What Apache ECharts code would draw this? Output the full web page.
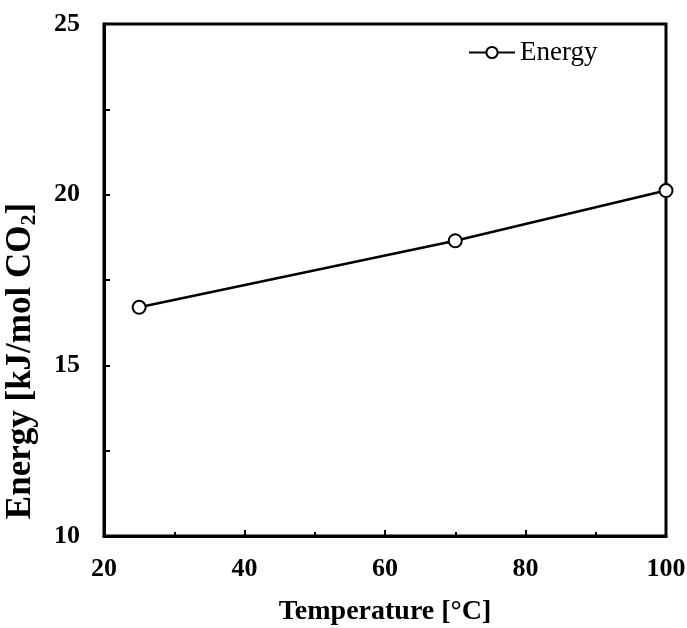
<!DOCTYPE html>
<html>
<head>
<meta charset="utf-8">
<script src="https://cdn.jsdelivr.net/npm/echarts@6/dist/echarts.min.js"></script>
<style>html,body{margin:0;padding:0;background:#fff}#c{width:687px;height:628px}</style>
</head>
<body>
<div id="c"></div>
<script>
const temperature = [25, 70, 100];
const energy = [16.7, 18.65, 20.12];
const seriesName = 'Energy';
const xTitle = 'Temperature [°C]';

const chart = echarts.init(document.getElementById('c'), null, {renderer: 'canvas'});
const serif = '"Liberation Serif", "Times New Roman", serif';
chart.setOption({
  animation: false,
  backgroundColor: '#fff',
  grid: {left: 104, right: 21, top: 24, bottom: 92, show: true, borderColor: '#000', borderWidth: 3,
         containLabel: false, outerBoundsMode: 'none'},
  legend: {
    show: true, left: 463, top: 34, itemWidth: 46, itemHeight: 14, itemGap: 2,
    textStyle: {fontFamily: serif, fontSize: 27, color: '#000'},
    data: [seriesName]
  },
  xAxis: {
    type: 'value', min: 20, max: 100, interval: 20,
    name: xTitle, nameLocation: 'middle', nameGap: 62,
    nameTextStyle: {fontFamily: serif, fontSize: 28, fontWeight: 'bold', color: '#000'},
    axisLine: {show: true, lineStyle: {color: '#000', width: 3}},
    axisTick: {show: true, inside: true, length: 6, lineStyle: {color: '#000', width: 2}},
    minorTick: {show: true, splitNumber: 2, length: 4, lineStyle: {color: '#000', width: 2}},
    splitLine: {show: false},
    axisLabel: {fontFamily: serif, fontSize: 26, fontWeight: 'bold', color: '#000', margin: 20}
  },
  yAxis: {
    type: 'value', min: 10, max: 25, interval: 5,
    name: '{a|Energy [kJ/mol CO}{s|2}{a|]}', nameLocation: 'middle', nameGap: 64, nameRotate: 90,
    nameTextStyle: {
      padding: [0, 162, 0, 0],
      rich: {
        a: {fontFamily: serif, fontSize: 35, fontWeight: 'bold', color: '#000'},
        s: {fontFamily: serif, fontSize: 22, fontWeight: 'bold', color: '#000', padding: [16, 0, 0, 0]}
      }
    },
    axisLine: {show: true, lineStyle: {color: '#000', width: 3}},
    axisTick: {show: true, inside: true, length: 6, lineStyle: {color: '#000', width: 2}},
    minorTick: {show: true, splitNumber: 2, length: 6, lineStyle: {color: '#000', width: 2}},
    splitLine: {show: false},
    axisLabel: {fontFamily: serif, fontSize: 26, fontWeight: 'bold', color: '#000', margin: 24}
  },
  series: [{
    name: seriesName, type: 'line',
    data: temperature.map((t, i) => [t, energy[i]]),
    symbol: 'circle', symbolSize: 13,
    lineStyle: {color: '#000', width: 2.5},
    itemStyle: {color: '#fff', borderColor: '#000', borderWidth: 2}
  }]
});
</script>
</body>
</html>
